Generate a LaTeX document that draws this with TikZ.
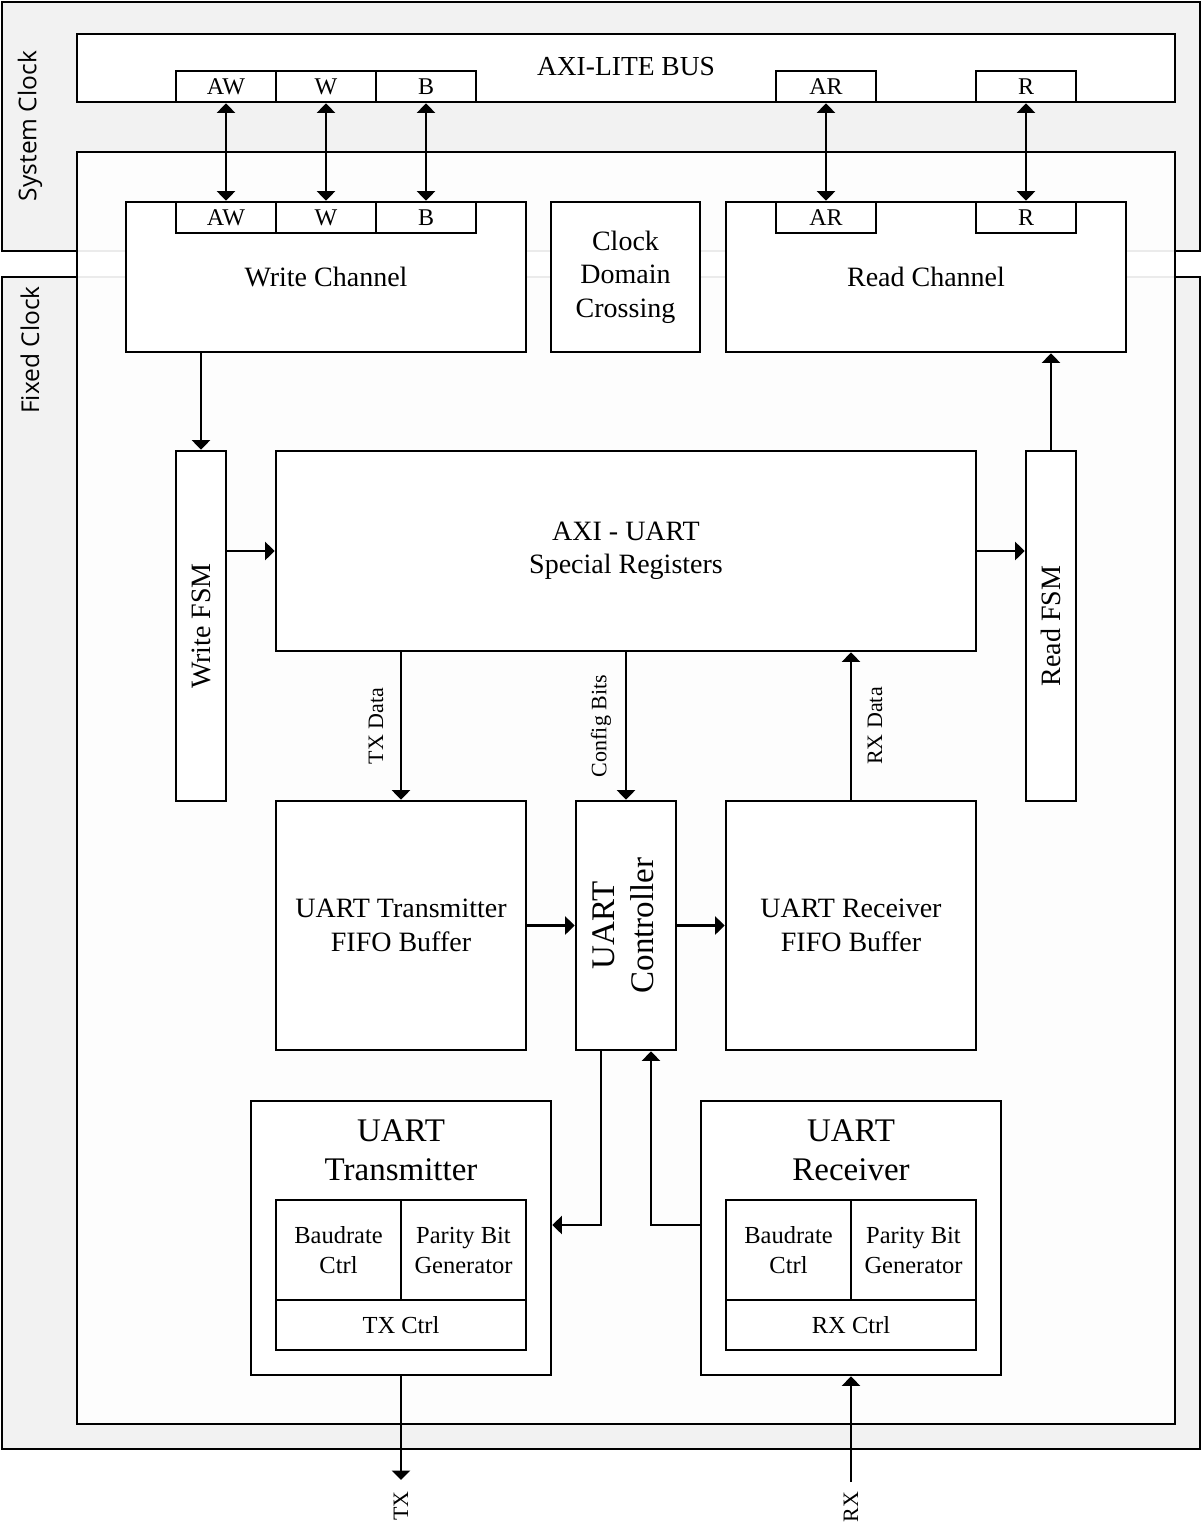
\documentclass[tikz,border=0pt]{standalone}
\usepackage{fontspec}
\usepackage{graphicx}
\setmainfont{Liberation Serif}
\newfontfamily\sansf{Open Sans}
\usetikzlibrary{arrows.meta}
\definecolor{regiongray}{HTML}{F2F2F2}
\begin{document}
\begin{tikzpicture}[x=1pt,y=-1pt,
  region/.style={draw,line width=2.7pt,fill=regiongray,inner sep=0pt},
  innerbox/.style={draw,line width=2.7pt,fill=white,fill opacity=0.92,inner sep=0pt},
  blk/.style={draw,line width=2.7pt,fill=white,inner sep=0pt,align=center,font=\fontsize{28}{33.5}\selectfont},
  port/.style={blk,font=\fontsize{24}{28}\selectfont,minimum width=100pt,minimum height=31pt},
  subblk/.style={blk,font=\fontsize{24.5}{30}\selectfont},
  titletext/.style={align=center,font=\fontsize{33}{39}\selectfont,inner sep=0pt},
  clk/.style={font=\sansf\fontsize{24.5}{28}\selectfont,rotate=90,inner sep=0pt},
  sig/.style={font=\fontsize{22}{26}\selectfont,inner sep=0pt},
  arr/.style={line width=2.6pt,-{Triangle[length=9.5pt,width=18pt]}},
  biarr/.style={line width=2.6pt,{Triangle[length=9.5pt,width=18pt]}-{Triangle[length=9.5pt,width=18pt]}},
]
\useasboundingbox (0,0) rectangle (1202,1535);

% clock regions
\node[region,minimum width=1198pt,minimum height=249pt] (sys) at (601,126.5) {};
\node[region,minimum width=1198pt,minimum height=1172pt] (fix) at (601,863) {};
\node[clk] (syslbl) at (30,126) {System Clock};
\node[clk] (fixlbl) at (30,350) {Fixed Clock};

% AXI-LITE bus
\node[blk,minimum width=1098pt,minimum height=68pt] (bus) at (626,68) {};
\node[inner sep=0pt,font=\fontsize{27.5}{32}\selectfont] (buslbl) at (626,67) {AXI-LITE BUS};
\node[port] (bAW) at (226,86.5) {AW};
\node[port] (bW) at (326,86.5) {W};
\node[port] (bB) at (426,86.5) {B};
\node[port] (bAR) at (826,86.5) {AR};
\node[port] (bR) at (1026,86.5) {R};

% core box
\node[innerbox,minimum width=1098pt,minimum height=1272pt] (core) at (626,788) {};

% channels
\node[blk,minimum width=400pt,minimum height=150pt] (wch) at (326,277) {Write Channel};
\node[blk,minimum width=149pt,minimum height=150pt] (cdc) at (625.5,277) {Clock\\Domain\\Crossing};
\node[blk,minimum width=400pt,minimum height=150pt] (rch) at (926,277) {Read Channel};
\node[port] (wAW) at (226,217.5) {AW};
\node[port] (wW) at (326,217.5) {W};
\node[port] (wB) at (426,217.5) {B};
\node[port] (rAR) at (826,217.5) {AR};
\node[port] (rR) at (1026,217.5) {R};

\draw[biarr] (bAW.south) -- (wAW.north);
\draw[biarr] (bW.south) -- (wW.north);
\draw[biarr] (bB.south) -- (wB.north);
\draw[biarr] (bAR.south) -- (rAR.north);
\draw[biarr] (bR.south) -- (rR.north);

% FSMs and registers
\node[blk,minimum width=50pt,minimum height=350pt] (wfsm) at (201,626) {\rotatebox{90}{Write FSM}};
\node[blk,minimum width=700pt,minimum height=200pt] (regs) at (626,551) {AXI - UART\\Special Registers};
\node[blk,minimum width=50pt,minimum height=350pt] (rfsm) at (1051,626) {\rotatebox{90}{Read FSM}};

\draw[arr] (wch.south -| wfsm.north) -- (wfsm.north);
\draw[arr] (wfsm.east |- regs.west) -- (regs.west);
\draw[arr] (regs.east) -- (regs.east -| rfsm.west);
\draw[arr] (rfsm.north) -- (rfsm.north |- rch.south);

% FIFOs and controller
\node[blk,minimum width=250pt,minimum height=249pt] (txf) at (401,925.5) {UART Transmitter\\FIFO Buffer};
\node[blk,minimum width=100pt,minimum height=249pt,font=\fontsize{33}{39}\selectfont] (ctrl) at (626,925.5) {\rotatebox{90}{\begin{tabular}{@{}c@{}}UART\\Controller\end{tabular}}};
\node[blk,minimum width=250pt,minimum height=249pt] (rxf) at (851,925.5) {UART Receiver\\FIFO Buffer};

\draw[arr] (regs.south -| txf.north) -- node[sig,midway,xshift=-25pt] (txdlbl) {\rotatebox{90}{TX Data}} (txf.north);
\draw[arr] (regs.south) -- node[sig,midway,xshift=-25pt] (cfglbl) {\rotatebox{90}{Config Bits}} (ctrl.north);
\draw[arr] (rxf.north) -- node[sig,midway,xshift=24pt] (rxdlbl) {\rotatebox{90}{RX Data}} (rxf.north |- regs.south);
\draw[arr] (txf.east) -- (ctrl.west);
\draw[arr] (ctrl.east) -- (rxf.west);

% UART transmitter
\node[blk,minimum width=300pt,minimum height=274pt] (utx) at (401,1238) {};
\node[titletext] (utxlbl) at (401,1150) {UART\\Transmitter};
\node[subblk,minimum width=125pt,minimum height=100pt] (txbaud) at (338.5,1250) {Baudrate\\Ctrl};
\node[subblk,minimum width=125pt,minimum height=100pt] (txpar) at (463.5,1250) {Parity Bit\\Generator};
\node[subblk,minimum width=250pt,minimum height=50pt] (txctrl) at (401,1325) {TX Ctrl};

% UART receiver
\node[blk,minimum width=300pt,minimum height=274pt] (urx) at (851,1238) {};
\node[titletext] (urxlbl) at (851,1150) {UART\\Receiver};
\node[subblk,minimum width=125pt,minimum height=100pt] (rxbaud) at (788.5,1250) {Baudrate\\Ctrl};
\node[subblk,minimum width=125pt,minimum height=100pt] (rxpar) at (913.5,1250) {Parity Bit\\Generator};
\node[subblk,minimum width=250pt,minimum height=50pt] (rxctrl) at (851,1325) {RX Ctrl};

\draw[arr] ([xshift=-25pt]ctrl.south) |- ([yshift=13pt]utx.east);
\draw[arr] ([yshift=13pt]urx.west) -| ([xshift=25pt]ctrl.south);

% pins
\coordinate (txend) at (401,1480);
\coordinate (rxstart) at (851,1482);
\draw[arr] (utx.south) -- (txend);
\draw[arr] (rxstart) -- (urx.south);
\node[sig,rotate=90] (txlbl) at (401,1506) {TX};
\node[sig,rotate=90] (rxlbl) at (851,1507) {RX};
\end{tikzpicture}
\end{document}
